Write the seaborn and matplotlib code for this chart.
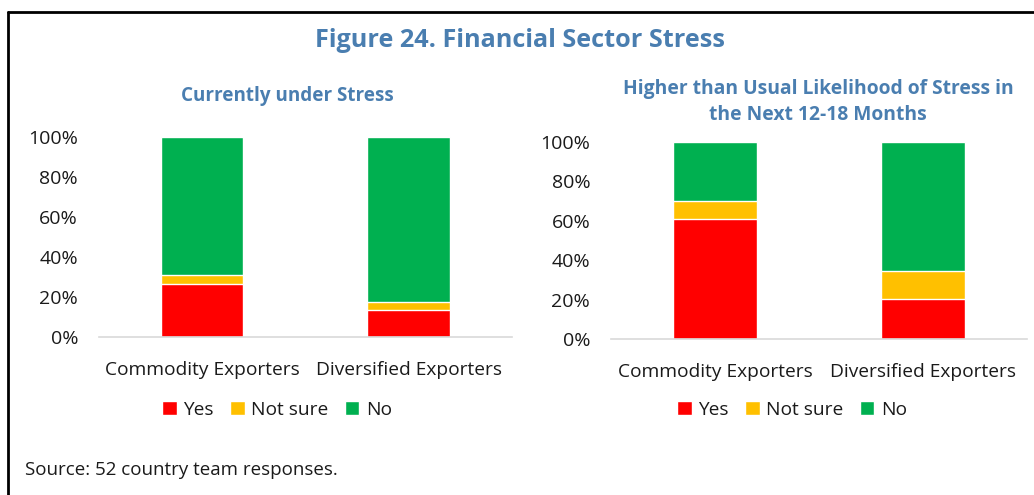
import pandas as pd
import matplotlib.pyplot as plt
import seaborn as sns
from matplotlib.lines import Line2D
from matplotlib.patches import Patch

# Survey shares (%)
groups = ['Commodity Exporters', 'Diversified Exporters']
answers = ['Yes', 'Not sure', 'No']
current_yes = [26.5, 13.3]
current_notsure = [4.3, 4.0]
current_no = [69.2, 82.7]
future_yes = [60.9, 20.5]
future_notsure = [9.2, 14.2]
future_no = [29.9, 65.3]

colors = {'Yes': '#FF0000', 'Not sure': '#FFC000', 'No': '#00B050'}
blue = '#4A7EB0'
txt = '#1a1a1a'

sns.set_theme(style='white')
plt.rcParams['font.family'] = ['Open Sans', 'DejaVu Sans']

fig = plt.figure(figsize=(10.34, 4.95), dpi=100)
ax1 = fig.add_axes([0.0957, 0.3192, 0.3994, 0.404])
ax2 = fig.add_axes([0.5909, 0.3152, 0.4023, 0.398])


def stacked(ax, yes, notsure, no):
    df = pd.DataFrame({'group': groups, 'Yes': yes, 'Not sure': notsure, 'No': no})
    df['top_notsure'] = df['Yes'] + df['Not sure']
    df['top_no'] = df['top_notsure'] + df['No']
    # draw from the tallest stack down so the lower segments sit on top
    sns.barplot(data=df, x='group', y='top_no', color=colors['No'], width=0.4,
                saturation=1, ax=ax)
    sns.barplot(data=df, x='group', y='top_notsure', color=colors['Not sure'], width=0.4,
                saturation=1, ax=ax)
    sns.barplot(data=df, x='group', y='Yes', color=colors['Yes'], width=0.4,
                saturation=1, ax=ax)
    ax.set_ylim(0, 100)
    ax.set_xlim(-0.5, 1.5)
    ax.set_yticks([0, 20, 40, 60, 80, 100])
    ax.set_yticklabels([f'{t}%' for t in range(0, 101, 20)])
    ax.set_xlabel('')
    ax.set_ylabel('')
    for s in ['top', 'right', 'left']:
        ax.spines[s].set_visible(False)
    ax.spines['bottom'].set_color('#D9D9D9')
    ax.spines['bottom'].set_linewidth(1.2)
    ax.tick_params(axis='y', length=0, pad=15, labelsize=14, labelcolor=txt)
    ax.tick_params(axis='x', length=0, pad=17, labelsize=13.8, labelcolor=txt)


stacked(ax1, current_yes, current_notsure, current_no)
stacked(ax2, future_yes, future_notsure, future_no)

handles = [Patch(facecolor=colors[a], label=a) for a in answers]
for cx in [0.268, 0.766]:
    fig.legend(handles=handles, loc='center', bbox_to_anchor=(cx, 0.172), ncol=3,
               frameon=False, fontsize=13.8, handlelength=0.75, handleheight=0.75,
               handletextpad=0.35, columnspacing=0.85, labelcolor=txt)

fig.text(0.503, 0.918, 'Figure 24. Financial Sector Stress', ha='center', va='center',
         fontsize=18.2, fontweight='bold', color=blue)
fig.text(0.278, 0.807, 'Currently under Stress', ha='center', va='center',
         fontsize=13.6, fontweight='bold', color=blue)
fig.text(0.791, 0.793, 'Higher than Usual Likelihood of Stress in\nthe Next 12-18 Months',
         ha='center', va='center', fontsize=13.9, fontweight='bold', color=blue,
         linespacing=1.4)
fig.text(0.024, 0.05, 'Source: 52 country team responses.', ha='left', va='center',
         fontsize=13.5, color=txt)

# frame lines (top and left edges of the boxed figure)
fig.add_artist(Line2D([0.0082, 1.0], [0.976, 0.976], color='black', lw=2, transform=fig.transFigure))
fig.add_artist(Line2D([0.0082, 0.0082], [0.0, 0.976], color='black', lw=2, transform=fig.transFigure))

plt.savefig('out.png', dpi=100)
